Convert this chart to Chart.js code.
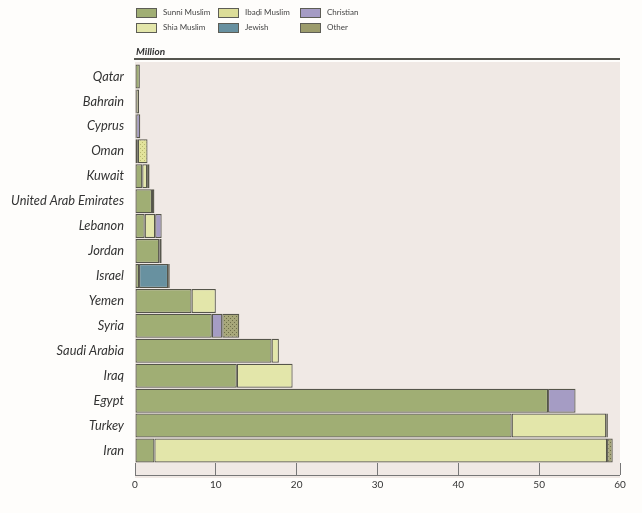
<!DOCTYPE html>
<html>
<head>
<meta charset="utf-8">
<script src="https://cdn.jsdelivr.net/npm/chart.js@4/dist/chart.umd.min.js"></script>
<style>
  html, body { margin: 0; padding: 0; background: #fefdfb; }
  #wrap { position: relative; width: 642px; height: 513px; }
  #legend { position: absolute; left: 136px; top: 8px; width: 260px; height: 28px; }
  .item { position: absolute; font: 8px Lato, sans-serif; color: #444; line-height: 9px; white-space: nowrap; }
  .item span.sw { display: inline-block; width: 19px; height: 8px; border: 1px solid #5d5d55; vertical-align: middle; margin-right: 6px; }
</style>
</head>
<body>
<div id="wrap">
  <canvas id="chart" width="642" height="513"></canvas>
  <div id="legend"></div>
</div>
<script>
const countries = ["Qatar", "Bahrain", "Cyprus", "Oman", "Kuwait", "United Arab Emirates", "Lebanon", "Jordan",
  "Israel", "Yemen", "Syria", "Saudi Arabia", "Iraq", "Egypt", "Turkey", "Iran"];

// millions
const sunni     = [0.6, 0.15, 0.15, 0.35, 0.9, 2.1, 1.2, 3.0, 0.5, 7.0, 9.5, 16.9, 12.6, 51.1, 46.6, 2.4];
const shia      = [null, 0.35, null, null, 0.6, 0.3, 1.3, null, null, 3.0, null, 0.9, 6.9, null, 11.7, 56.0];
const ibadi     = [null, null, null, 1.2, null, null, null, null, null, null, null, null, null, null, null, null];
const jewish    = [null, null, null, null, null, null, null, null, 3.6, null, null, null, null, null, null, null];
const christian = [null, null, 0.5, null, null, null, 0.8, 0.3, null, null, 1.3, null, null, 3.4, 0.2, null];
const other     = [null, null, null, null, 0.3, null, null, null, 0.2, null, 2.1, null, null, null, null, 0.7];

const xTicks = [0, 10, 20, 30, 40, 50, 60];

function dotted(base, dot)
{
  var c = document.createElement("canvas");
  c.width = 4; c.height = 4;
  var g = c.getContext("2d");
  g.fillStyle = base; g.fillRect(0, 0, 4, 4);
  g.fillStyle = dot; g.fillRect(0, 0, 1, 1); g.fillRect(2, 2, 1, 1);
  return g.createPattern(c, "repeat");
}

const series = [
  { label: "Sunni Muslim", data: sunni, color: "#a0ae74", css: "#a0ae74" },
  { label: "Shia Muslim", data: shia, color: "#e3e6aa", css: "#e3e6aa" },
  { label: "Ibaḍi Muslim", data: ibadi, color: dotted("#e2e39c", "#b8b870"), css: "#dcdd98" },
  { label: "Jewish", data: jewish, color: "#6891a0", css: "#6891a0" },
  { label: "Christian", data: christian, color: "#a59cc4", css: "#a59cc4" },
  { label: "Other", data: other, color: dotted("#a7a77a", "#6e6e4a"), css: "#9c9c6c" }
];

// legend: two rows, filled column by column
const legendEl = document.getElementById("legend");
series.forEach(function (s, i) {
  var d = document.createElement("div");
  d.className = "item";
  d.style.left = (Math.floor(i / 2) * 82) + "px";
  d.style.top = ((i % 2) * 15) + "px";
  d.innerHTML = '<span class="sw" style="background:' + s.css + '"></span>' + s.label;
  legendEl.appendChild(d);
});

const decor = {
  id: "decor",
  beforeDraw: function (chart) {
    var ctx = chart.ctx, a = chart.chartArea;
    ctx.save();
    ctx.fillStyle = "#f0e9e5";
    ctx.fillRect(a.left, a.top - 2, a.right - a.left, a.bottom - a.top + 17);
    ctx.strokeStyle = "#55554f";
    ctx.lineWidth = 2;
    ctx.beginPath(); ctx.moveTo(a.left - 1, a.top - 5); ctx.lineTo(a.right, a.top - 5); ctx.stroke();
    ctx.font = "bold italic 10px Lato, sans-serif";
    ctx.fillStyle = "#333";
    ctx.textBaseline = "alphabetic";
    ctx.fillText("Million", a.left + 1, a.top - 9);
    ctx.restore();
  },
  afterDraw: function (chart) {
    var ctx = chart.ctx, a = chart.chartArea;
    ctx.save();
    ctx.strokeStyle = "#777";
    ctx.lineWidth = 1;
    ctx.beginPath(); ctx.moveTo(a.left, a.bottom + 12.5); ctx.lineTo(a.right, a.bottom + 12.5); ctx.stroke();
    ctx.restore();
  }
};

new Chart(document.getElementById("chart"), {
  type: "bar",
  data: {
    labels: countries,
    datasets: series.map(function (s) {
      return {
        label: s.label,
        data: s.data,
        backgroundColor: s.color,
        borderColor: "#55554a",
        borderWidth: 1.2,
        borderSkipped: false,
        barPercentage: 0.96,
        categoryPercentage: 1.0
      };
    })
  },
  options: {
    indexAxis: "y",
    responsive: false,
    animation: false,
    layout: { padding: { left: 0, right: 22, top: 64, bottom: 0 } },
    plugins: { legend: { display: false }, tooltip: { enabled: false } },
    scales: {
      y: {
        stacked: true,
        grid: { display: false },
        border: { display: false },
        ticks: { color: "#333", padding: 3, font: { family: "Lato", style: "italic", size: 12.8 } },
        afterFit: function (scale) { scale.width = 135; }
      },
      x: {
        stacked: true,
        min: 0,
        max: 60,
        afterBuildTicks: function (scale) { scale.ticks = xTicks.map(function (v) { return { value: v }; }); },
        grid: { drawOnChartArea: false, drawTicks: true, tickLength: 12, color: "#777" },
        border: { display: false },
        ticks: { color: "#333", padding: 4, font: { family: "Lato", size: 10 } },
        afterFit: function (scale) { scale.height = 50; }
      }
    }
  },
  plugins: [decor]
});
</script>
</body>
</html>
